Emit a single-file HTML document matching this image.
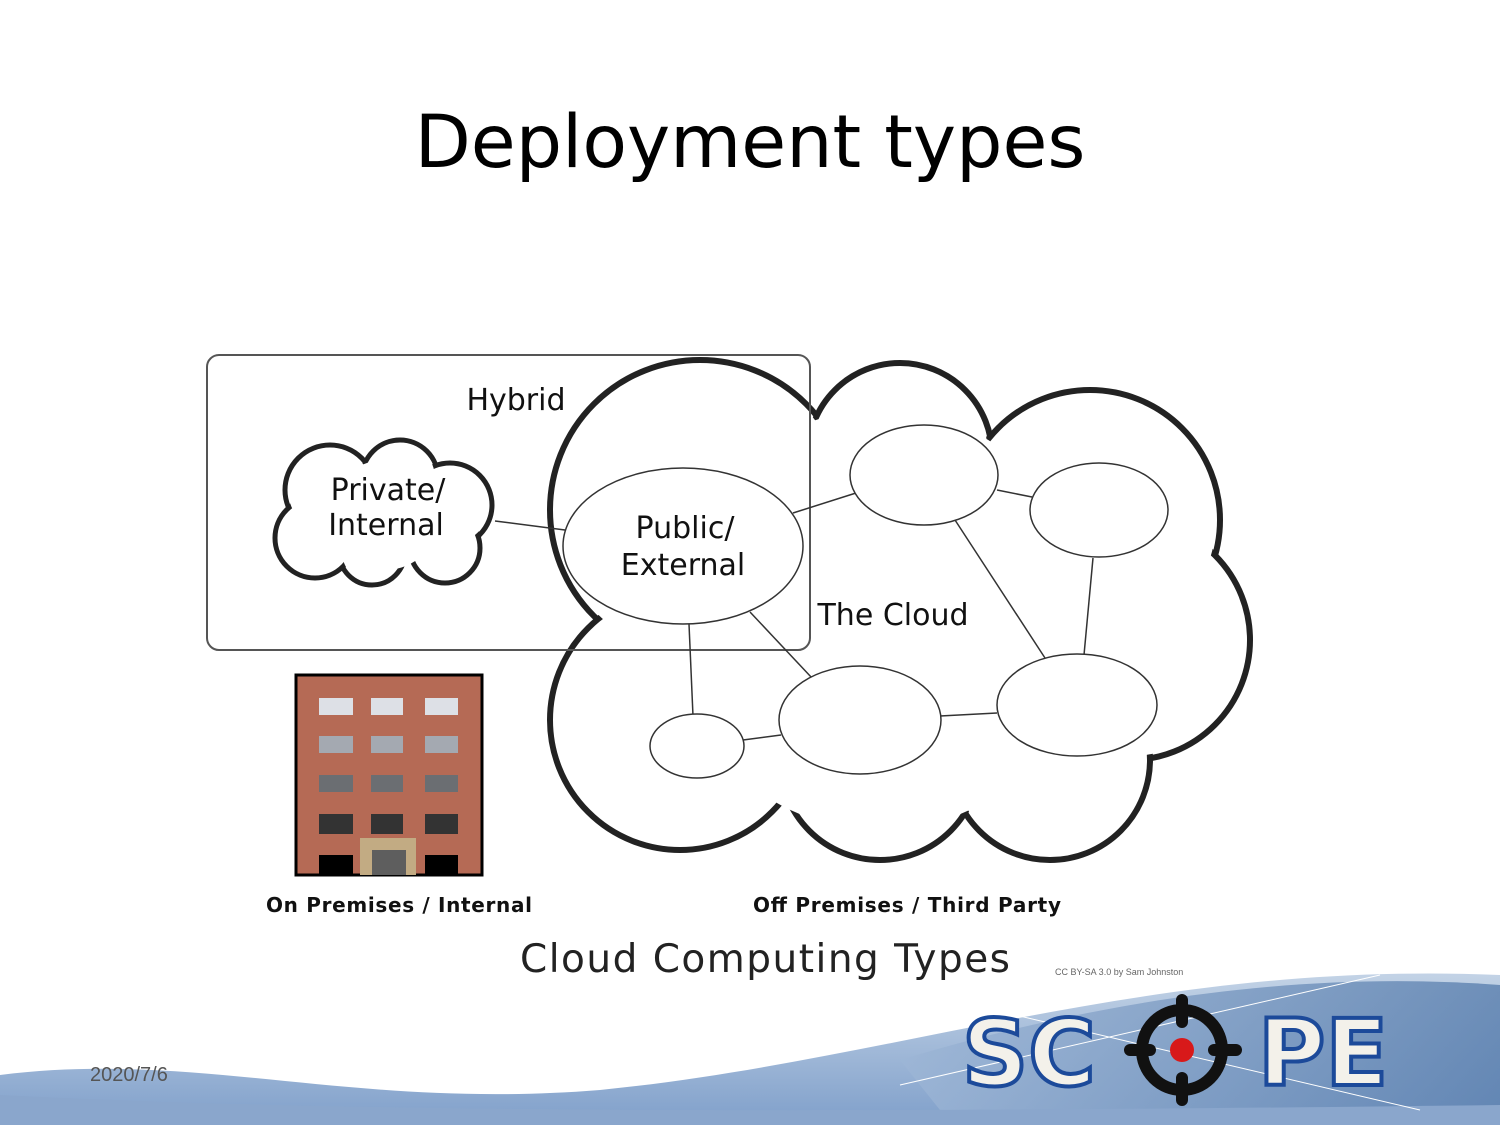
<!DOCTYPE html>
<html><head><style>
body{margin:0;width:1500px;height:1125px;background:#fff;overflow:hidden;font-family:"Liberation Sans","DejaVu Sans",sans-serif}
</style></head><body>
<svg width="1500" height="1125" viewBox="0 0 1500 1125" xmlns="http://www.w3.org/2000/svg">
<defs>
<linearGradient id="sea" x1="0" y1="0" x2="0" y2="1"><stop offset="0" stop-color="#c3d3e6"/><stop offset="1" stop-color="#7f9fca"/></linearGradient>
<linearGradient id="sea2" x1="0" y1="0" x2="1" y2="0"><stop offset="0" stop-color="#9db6d6"/><stop offset="1" stop-color="#5a7fae"/></linearGradient>
</defs>
<text x="750" y="167" text-anchor="middle" font-family="'DejaVu Sans',sans-serif" font-size="73" fill="#000">Deployment types</text>

<g stroke="#222" stroke-width="6" fill="#fff">
<circle cx="700" cy="510" r="150"/><circle cx="900" cy="455" r="92"/><circle cx="1090" cy="520" r="130"/>
<circle cx="1130" cy="640" r="120"/><circle cx="1050" cy="760" r="100"/><circle cx="880" cy="760" r="100"/>
<circle cx="680" cy="720" r="130"/>
</g>
<g fill="#fff">
<circle cx="700" cy="510" r="146"/><circle cx="900" cy="455" r="88"/><circle cx="1090" cy="520" r="126"/>
<circle cx="1130" cy="640" r="116"/><circle cx="1050" cy="760" r="96"/><circle cx="880" cy="760" r="96"/>
<circle cx="680" cy="720" r="126"/><circle cx="880" cy="620" r="210"/>
</g>
<g stroke="#222" stroke-width="5" fill="#fff">
<circle cx="330" cy="490" r="45"/><circle cx="400" cy="478" r="38"/><circle cx="450" cy="505" r="42"/>
<circle cx="445" cy="548" r="35"/><circle cx="372" cy="552" r="33"/><circle cx="315" cy="538" r="40"/>
</g>
<g fill="#fff">
<circle cx="330" cy="490" r="42"/><circle cx="400" cy="478" r="35"/><circle cx="450" cy="505" r="39"/>
<circle cx="445" cy="548" r="32"/><circle cx="372" cy="552" r="30"/><circle cx="315" cy="538" r="37"/><circle cx="385" cy="515" r="55"/>
</g>
<rect x="207" y="355" width="603" height="295" rx="12" fill="none" stroke="#555" stroke-width="2"/>
<g stroke="#333" stroke-width="1.5">
<line x1="495" y1="521" x2="565" y2="530"/><line x1="793" y1="513" x2="856" y2="493"/>
<line x1="997" y1="490" x2="1032" y2="497"/><line x1="955" y1="520" x2="1045" y2="658"/>
<line x1="1093" y1="558" x2="1084" y2="655"/><line x1="689" y1="624" x2="693" y2="716"/>
<line x1="750" y1="612" x2="812" y2="678"/><line x1="743" y1="740" x2="781" y2="735"/>
<line x1="940" y1="716" x2="997" y2="713"/>
</g>
<g stroke="#333" stroke-width="1.5" fill="#fff">
<ellipse cx="683" cy="546" rx="120" ry="78"/><ellipse cx="924" cy="475" rx="74" ry="50"/>
<ellipse cx="1099" cy="510" rx="69" ry="47"/><ellipse cx="1077" cy="705" rx="80" ry="51"/>
<ellipse cx="860" cy="720" rx="81" ry="54"/><ellipse cx="697" cy="746" rx="47" ry="32"/>
</g>
<g font-family="'DejaVu Sans',sans-serif" fill="#111" font-size="30">
<text x="516" y="410" text-anchor="middle">Hybrid</text>
<text x="388" y="500" text-anchor="middle">Private/</text>
<text x="386" y="535" text-anchor="middle">Internal</text>
<text x="685" y="538" text-anchor="middle">Public/</text>
<text x="683" y="575" text-anchor="middle">External</text>
<text x="893" y="625" text-anchor="middle">The Cloud</text>
<text x="399" y="912" text-anchor="middle" font-size="20" font-weight="bold" textLength="266">On Premises / Internal</text>
<text x="907" y="912" text-anchor="middle" font-size="20" font-weight="bold" textLength="308">Off Premises / Third Party</text>
<text x="765" y="972" text-anchor="middle" font-size="39" fill="#222" textLength="490">Cloud Computing Types</text>
</g>
<rect x="296" y="675" width="186" height="200" fill="#b56a55" stroke="#000" stroke-width="3"/>
<g fill="#dde0e6"><rect x="319" y="698" width="34" height="17"/><rect x="371" y="698" width="32" height="17"/><rect x="425" y="698" width="33" height="17"/></g>
<g fill="#a4a9b1"><rect x="319" y="736" width="34" height="17"/><rect x="371" y="736" width="32" height="17"/><rect x="425" y="736" width="33" height="17"/></g>
<g fill="#6b6e72"><rect x="319" y="775" width="34" height="17"/><rect x="371" y="775" width="32" height="17"/><rect x="425" y="775" width="33" height="17"/></g>
<g fill="#333"><rect x="319" y="814" width="34" height="20"/><rect x="371" y="814" width="32" height="20"/><rect x="425" y="814" width="33" height="20"/></g>
<g fill="#000"><rect x="319" y="855" width="34" height="20"/><rect x="425" y="855" width="33" height="20"/></g>
<rect x="360" y="838" width="56" height="37" fill="#c2ab83"/><rect x="372" y="850" width="34" height="25" fill="#5e5e5e"/>

<path d="M0 1075 C200 1050 350 1110 600 1090 C900 1060 1150 960 1500 975 L1500 1125 L0 1125Z" fill="url(#sea)"/>
<path d="M900 1060 C1100 1000 1300 970 1500 985 L1500 1110 L940 1110Z" fill="url(#sea2)" opacity="0.8"/>
<path d="M0 1095 C300 1110 700 1115 1500 1105 L1500 1125 L0 1125Z" fill="#8aa6cc"/>
<g stroke="#fff" stroke-width="1" fill="none"><line x1="930" y1="995" x2="1420" y2="1110"/><line x1="900" y1="1085" x2="1380" y2="975"/></g>
<text x="1055" y="975" font-size="9" fill="#666">CC BY-SA 3.0 by Sam Johnston</text>
<g font-family="'DejaVu Sans',sans-serif" font-weight="bold" font-size="92" fill="#f3f1ea" stroke="#1c4a9a" stroke-width="4">
<text x="962" y="1085">SC</text><text x="1258" y="1085">PE</text>
</g>
<g stroke="#111" stroke-width="12" fill="none"><circle cx="1182" cy="1050" r="40"/>
<line x1="1182" y1="1000" x2="1182" y2="1022" stroke-linecap="round"/><line x1="1182" y1="1078" x2="1182" y2="1100" stroke-linecap="round"/>
<line x1="1130" y1="1050" x2="1150" y2="1050" stroke-linecap="round"/><line x1="1214" y1="1050" x2="1236" y2="1050" stroke-linecap="round"/></g>
<circle cx="1182" cy="1050" r="12" fill="#d8191a"/>
<text x="90" y="1081" font-size="20" fill="#555">2020/7/6</text>
</svg>
</body></html>
